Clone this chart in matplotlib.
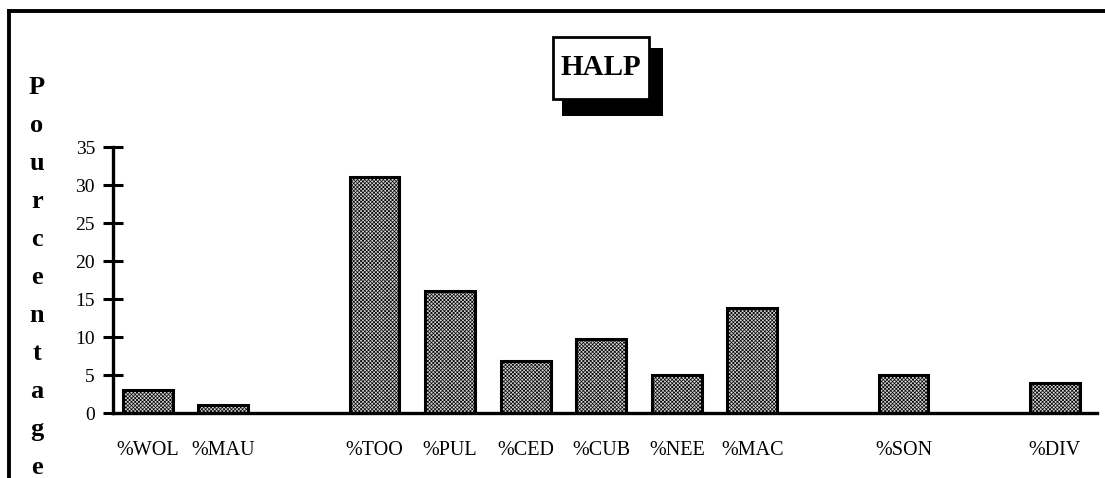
import numpy as np
import matplotlib
matplotlib.use("Agg")
import matplotlib.pyplot as plt
from matplotlib.patches import Rectangle
from matplotlib.lines import Line2D

# Category slots (blank slots leave gaps between the groups)
categories = ["%WOL", "%MAU", "", "%TOO", "%PUL", "%CED", "%CUB", "%NEE",
              "%MAC", "", "%SON", "", "%DIV"]
percentages = [3, 1, np.nan, 31, 16, 6.8, 9.8, 5, 13.8, np.nan, 5, np.nan, 3.9]
y_ticks = [0, 5, 10, 15, 20, 25, 30, 35]
title = "HALP"
y_label = "Pourcentage"

W, H = 1105, 478
DPI = 100
plt.rcParams["font.family"] = ["Liberation Serif", "DejaVu Serif"]
plt.rcParams["hatch.linewidth"] = 0.5

fig = plt.figure(figsize=(W / DPI, H / DPI), dpi=DPI, facecolor="white")


def fx(px):
    return px / W


def fy(py):
    return 1 - py / H


ax = fig.add_axes([fx(113), fy(413), fx(1097) - fx(113), fy(147) - fy(413)])
ax.set_facecolor("none")

x = np.arange(len(categories))
ax.bar(x, percentages, width=0.66, facecolor="#d4d4d4", edgecolor="black",
       linewidth=2.2, hatch="xxxxxxxxx", zorder=2)

ax.set_xlim(-0.46, 12.56)
ax.set_ylim(0, 35)

for side in ("top", "right"):
    ax.spines[side].set_visible(False)
ax.spines["left"].set_linewidth(2.4)
ax.spines["bottom"].set_linewidth(2.4)
ax.spines["bottom"].set_zorder(3)

ax.set_yticks(y_ticks)
ax.set_yticklabels([str(v) for v in y_ticks], fontsize=14)
ax.tick_params(axis="y", direction="inout", length=14, width=2.2, pad=6)

ax.set_xticks(x)
ax.set_xticklabels(categories, fontsize=14.5)
ax.tick_params(axis="x", length=0, pad=20)

# Vertical axis label, one letter per line
letter_y0, letter_step = 88, 37.9
for i, ch in enumerate(y_label):
    fig.text(fx(37), fy(letter_y0 + i * letter_step), ch, ha="center",
             va="center", fontsize=19, fontweight="bold")

# Title box with drop shadow
fig.patches.append(Rectangle((fx(562), fy(116)), fx(663) - fx(562),
                             fy(48) - fy(116), transform=fig.transFigure,
                             facecolor="black", edgecolor="none", zorder=1))
fig.patches.append(Rectangle((fx(553), fy(99)), fx(649) - fx(553),
                             fy(37) - fy(99), transform=fig.transFigure,
                             facecolor="white", edgecolor="black",
                             linewidth=2.0, zorder=2))
fig.text(fx(601), fy(67), title, ha="center", va="center", fontsize=21,
         fontweight="bold", zorder=3)

# Outer frame (top and left edges)
fig.lines.append(Line2D([fx(9), fx(1105)], [fy(11), fy(11)],
                        transform=fig.transFigure, color="black", linewidth=2.8))
fig.lines.append(Line2D([fx(9), fx(9)], [fy(11), fy(478)],
                        transform=fig.transFigure, color="black", linewidth=2.8))

fig.savefig("out.png", dpi=DPI, facecolor="white")
